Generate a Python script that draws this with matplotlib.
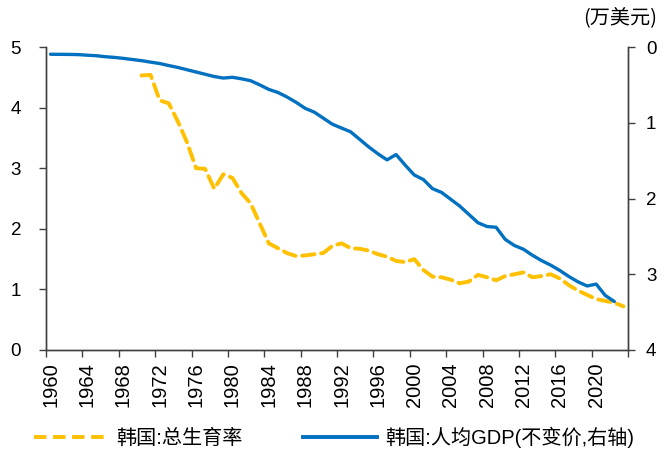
import matplotlib
matplotlib.use("Agg")
import matplotlib.pyplot as plt
from matplotlib.lines import Line2D

plt.rcParams['font.family'] = ['Liberation Sans', 'Noto Sans CJK SC', 'DejaVu Sans']

years = list(range(1960, 2024))

tfr_years = list(range(1970, 2024))
tfr = [4.53, 4.54, 4.12, 4.07, 3.77, 3.43, 3.00, 2.99, 2.66, 2.90, 2.84, 2.59, 2.42, 2.09, 1.76,
       1.68, 1.60, 1.55, 1.56, 1.58, 1.60, 1.72, 1.76, 1.68, 1.67, 1.64, 1.58, 1.54, 1.47, 1.45,
       1.50, 1.32, 1.21, 1.20, 1.16, 1.10, 1.13, 1.24, 1.20, 1.15, 1.22, 1.25, 1.28, 1.20, 1.22,
       1.25, 1.18, 1.07, 0.98, 0.91, 0.84, 0.81, 0.78, 0.72]

gdp_years = list(range(1960, 2023))
gdp = [0.096, 0.097, 0.098, 0.100, 0.108, 0.115, 0.128, 0.137, 0.150, 0.165,
       0.180, 0.200, 0.218, 0.245, 0.270, 0.300, 0.330, 0.360, 0.390, 0.410,
       0.400, 0.420, 0.445, 0.500, 0.560, 0.600, 0.660, 0.730, 0.810, 0.860,
       0.940, 1.020, 1.070, 1.120, 1.220, 1.320, 1.410, 1.490, 1.420, 1.560,
       1.690, 1.750, 1.870, 1.920, 2.010, 2.100, 2.210, 2.320, 2.370, 2.380,
       2.540, 2.620, 2.670, 2.750, 2.820, 2.880, 2.950, 3.030, 3.100, 3.155,
       3.130, 3.280, 3.360]

label_years = list(range(1960, 2021, 4))

yellow = '#FFC000'
blue = '#0070C0'
spine_c = '#404040'

fig = plt.figure(figsize=(6.65, 4.57), dpi=100)
ax = fig.add_axes([46/665, 1-350/457, (628-46)/665, (350-47)/457])
ax2 = ax.twinx()

xt = [y - 1960 for y in tfr_years]
xg = [y - 1960 for y in gdp_years]

dash = (0, (3.2, 1.7))
ax.plot(xt, tfr, color=yellow, lw=2.8, ls=dash, zorder=3, dash_capstyle='round')
ax2.plot(xg, gdp, color=blue, lw=2.4, zorder=3, solid_capstyle='round')

ax.set_xlim(-0.5, len(years) - 0.5)
ax.set_ylim(0, 5)
ax.set_yticks(range(0, 6))
ax2.set_ylim(4, 0)
ax2.set_yticks(range(0, 5))

ax.set_xticks([i - 0.5 for i in range(0, len(years) + 1, 4)])
ax.set_xticklabels([])
ax.set_xticks([y - 1960 for y in label_years], minor=True)
ax.set_xticklabels([str(y) for y in label_years], minor=True, rotation=90, fontsize=14.5)
ax.tick_params(axis='x', which='minor', length=0, pad=9)
ax.tick_params(axis='x', which='major', length=5, width=1, color=spine_c, direction='out')
ax.tick_params(axis='y', labelsize=13.5, length=5, width=1, color=spine_c, pad=13)
ax2.tick_params(axis='y', labelsize=13.5, length=5, width=1, color=spine_c, pad=8)

for a in (ax, ax2):
    a.spines['top'].set_visible(False)
    for s in ('left', 'right', 'bottom'):
        a.spines[s].set_color(spine_c)
        a.spines[s].set_linewidth(1.0)

fig.text(620/665, 1-18/457, '(万美元)', ha='center', va='center', fontsize=14.5,
         family=['Noto Sans CJK SC', 'DejaVu Sans'])

handles = [Line2D([], [], color=yellow, lw=2.8, ls=dash),
           Line2D([], [], color=blue, lw=2.8)]
labels = ['韩国:总生育率', '韩国:人均GDP(不变价,右轴)']
fig.legend(handles, labels, loc='center', bbox_to_anchor=(334/665, 1-437/457), ncol=2,
           frameon=False, fontsize=14.5, handlelength=3.7, columnspacing=3.0, handletextpad=0.4)

fig.savefig('out.png', dpi=100)
